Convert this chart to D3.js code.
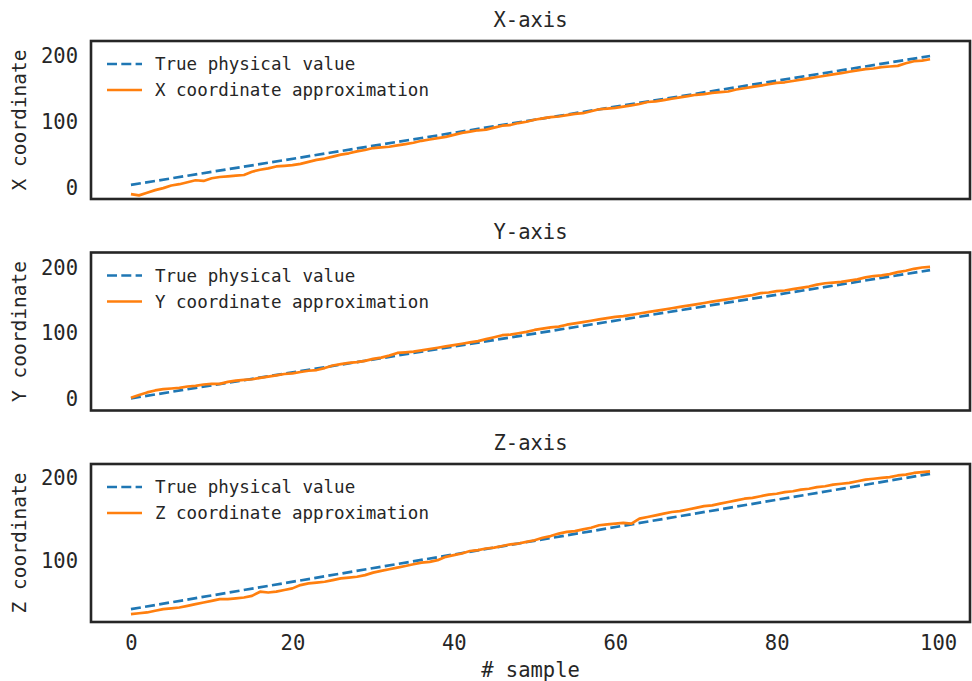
<!DOCTYPE html>
<html>
<head>
<meta charset="utf-8">
<script src="https://cdn.jsdelivr.net/npm/d3@7"></script>
<style>
  body { margin: 0; background: #fff; }
  svg { display: block; font-family: "DejaVu Sans Mono", monospace; }
</style>
</head>
<body>
<div id="chart"></div>
<script>
// sample index 0..99
const samples = d3.range(100);
const xTicks = [0, 20, 40, 60, 80, 100];
const yTicks = [0, 100, 200];

const axisTitles = ["X-axis", "Y-axis", "Z-axis"];
const yLabels = ["X coordinate", "Y coordinate", "Z coordinate"];
const approxNames = ["X coordinate approximation", "Y coordinate approximation", "Z coordinate approximation"];

// true physical value is a straight line: first and last sample
const trueX = [4, 200];
const trueY = [1, 196];
const trueZ = [42, 205];

// approximations, one per sample
const approxX = [-10, -12, -8, -4, -1, 3, 5, 8, 11, 10, 14, 16, 17, 18, 19, 24, 27, 29, 32, 33,
  34, 36, 39, 42, 44, 47, 50, 52, 55, 57, 60, 61, 62, 64, 66, 68, 71, 73, 75, 77,
  80, 83, 85, 87, 88, 91, 94, 95, 98, 100, 103, 105, 107, 108, 110, 112, 113, 116, 119, 120,
  121, 123, 125, 127, 130, 131, 133, 135, 137, 139, 141, 142, 144, 145, 146, 149, 151, 153, 155, 157,
  159, 160, 162, 164, 166, 168, 170, 172, 174, 176, 178, 180, 181, 183, 184, 185, 189, 192, 193, 195];
const approxY = [2, 6, 10, 13, 15, 16, 17, 19, 20, 22, 23, 23, 26, 28, 29, 30, 32, 34, 36, 38,
  39, 41, 43, 44, 47, 51, 53, 55, 56, 58, 61, 63, 66, 70, 71, 72, 74, 76, 78, 80,
  82, 84, 86, 88, 91, 94, 97, 98, 100, 102, 105, 107, 109, 110, 113, 115, 117, 119, 121, 123,
  125, 126, 128, 130, 132, 134, 136, 138, 140, 142, 144, 146, 148, 150, 152, 154, 156, 158, 161, 162,
  164, 165, 167, 169, 171, 174, 176, 177, 178, 180, 182, 185, 187, 188, 190, 193, 195, 198, 200, 201];
const approxZ = [36, 37, 38, 40, 42, 43, 44, 46, 48, 50, 52, 54, 54, 55, 56, 58, 63, 62, 63, 65,
  67, 71, 73, 74, 75, 77, 79, 80, 81, 83, 86, 88, 90, 92, 94, 96, 98, 99, 101, 105,
  107, 109, 112, 113, 115, 116, 118, 120, 121, 123, 125, 128, 130, 133, 135, 136, 138, 140, 143, 144,
  145, 146, 145, 151, 153, 155, 157, 159, 160, 162, 164, 166, 167, 169, 171, 173, 175, 176, 178, 180,
  181, 183, 184, 186, 187, 189, 190, 192, 193, 194, 196, 198, 199, 200, 201, 203, 204, 206, 207, 208];

const width = 972;
const height = 681;
const left = 91, right = 970;
const panelTops = [41, 252.5, 464];
const panelH = 158;
const yDomains = [[-17.5, 222.8], [-17.5, 222.8], [26.5, 216.8]];
const ink = "#262626";
const lw = 2.7;
const dash = "10,4.3";

const panels = [
    { title: axisTitles[0], ylab: yLabels[0], name: approxNames[0], truth: trueX, approx: approxX },
    { title: axisTitles[1], ylab: yLabels[1], name: approxNames[1], truth: trueY, approx: approxY },
    { title: axisTitles[2], ylab: yLabels[2], name: approxNames[2], truth: trueZ, approx: approxZ }
];

const svg = d3.select("#chart")
    .append("svg")
    .attr("width", width)
    .attr("height", height);

const x = d3.scaleLinear().domain([-4.95, 103.95]).range([left, right]);

panels.forEach((p, k) => {
    const top = panelTops[k];
    const y = d3.scaleLinear().domain(yDomains[k]).range([top + panelH, top]);
    const g = svg.append("g");

    const clipId = "clip" + k;
    svg.append("clipPath").attr("id", clipId)
        .append("rect")
        .attr("x", left).attr("y", top)
        .attr("width", right - left).attr("height", panelH);

    // y tick labels (no tick marks)
    const ticks = yTicks.filter(t => t >= yDomains[k][0] && t <= yDomains[k][1]);
    const yAxis = g.append("g")
        .attr("transform", `translate(${left},0)`)
        .call(d3.axisLeft(y).tickValues(ticks).tickSize(0).tickPadding(13).tickFormat(d3.format("d")));
    yAxis.select(".domain").remove();
    yAxis.selectAll("text").attr("font-size", "20.5px").attr("fill", ink)
        .attr("font-family", "DejaVu Sans Mono, monospace");

    // x tick labels only on the bottom panel
    if (k === 2) {
        const xAxis = g.append("g")
            .attr("transform", `translate(0,${top + panelH})`)
            .call(d3.axisBottom(x).tickValues(xTicks).tickSize(0).tickPadding(13));
        xAxis.select(".domain").remove();
        xAxis.selectAll("text").attr("font-size", "20.5px").attr("fill", ink)
            .attr("font-family", "DejaVu Sans Mono, monospace");

        g.append("text")
            .attr("x", (left + right) / 2)
            .attr("y", 677)
            .attr("text-anchor", "middle")
            .attr("font-size", "20.5px")
            .attr("fill", ink)
            .text("# sample");
    }

    // title
    g.append("text")
        .attr("x", (left + right) / 2)
        .attr("y", top - 14)
        .attr("text-anchor", "middle")
        .attr("font-size", "20.5px")
        .attr("fill", ink)
        .text(p.title);

    // y label
    g.append("text")
        .attr("transform", `translate(26,${top + panelH / 2}) rotate(-90)`)
        .attr("text-anchor", "middle")
        .attr("font-size", "19.5px")
        .attr("fill", ink)
        .text(p.ylab);

    const lines = g.append("g").attr("clip-path", `url(#${clipId})`);

    // true value, dashed
    lines.append("path")
        .datum([0, samples.length - 1].map((s, i) => [s, p.truth[i]]))
        .attr("fill", "none")
        .attr("stroke", "#1f77b4")
        .attr("stroke-width", lw)
        .attr("stroke-dasharray", dash)
        .attr("d", d3.line().x(d => x(d[0])).y(d => y(d[1])));

    // approximation, solid
    lines.append("path")
        .datum(samples.map(s => [s, p.approx[s]]))
        .attr("fill", "none")
        .attr("stroke", "#ff7f0e")
        .attr("stroke-width", lw)
        .attr("stroke-linejoin", "round")
        .attr("d", d3.line().x(d => x(d[0])).y(d => y(d[1])));

    // legend (no frame)
    const lg = g.append("g").attr("transform", `translate(${left},${top})`);
    const items = [
        { label: "True physical value", color: "#1f77b4", dash: dash },
        { label: p.name, color: "#ff7f0e", dash: null }
    ];
    items.forEach((it, j) => {
        const cy = 23 + j * 26;
        lg.append("line")
            .attr("x1", 16).attr("x2", 51)
            .attr("y1", cy).attr("y2", cy)
            .attr("stroke", it.color)
            .attr("stroke-width", lw)
            .attr("stroke-dasharray", it.dash);
        lg.append("text")
            .attr("x", 64).attr("y", cy)
            .attr("dy", "0.35em")
            .attr("font-size", "17.5px")
            .attr("fill", ink)
            .text(it.label);
    });

    // frame
    g.append("rect")
        .attr("x", left).attr("y", top)
        .attr("width", right - left).attr("height", panelH)
        .attr("fill", "none")
        .attr("stroke", ink)
        .attr("stroke-width", 2.6);
});
</script>
</body>
</html>
